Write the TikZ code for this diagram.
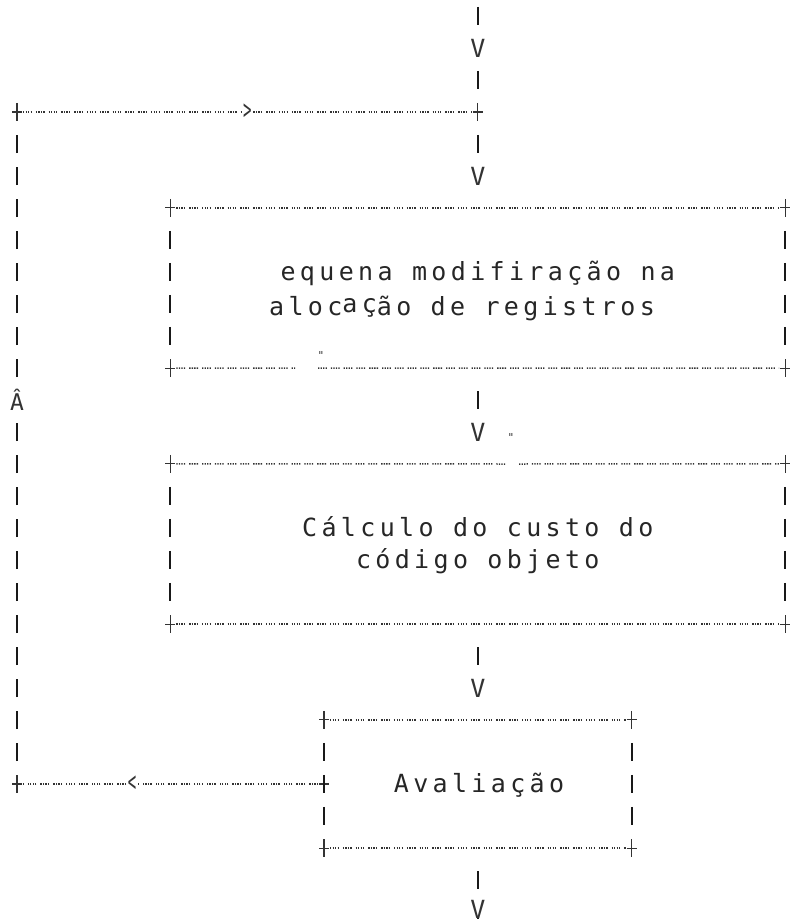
\documentclass[tikz,border=0pt]{standalone}
\usepackage{fontspec}
\usepackage{graphicx}
\usetikzlibrary{calc}
\newfontfamily\dotmono{DejaVu Sans Mono}[LetterSpace=17.4]
\newfontfamily\plainmono{DejaVu Sans Mono}

% a '+' corner / junction mark
\newcommand\plusat[1]{%
  \draw[black!80, line width=1.3pt] ($#1+(-5,0)$) -- ($#1+(5,0)$) ($#1+(0,-9)$) -- ($#1+(0,9)$);}

% dotted top/bottom edges and the four corners of a box node
\newcommand\asciibox[1]{%
  \draw[hline] ($(#1.north west)+(6,0)$) -- ($(#1.north east)+(-6,0)$);
  \draw[hline] ($(#1.south west)+(6,0)$) -- ($(#1.south east)+(-6,0)$);
  \plusat{(#1.north west)}\plusat{(#1.north east)}
  \plusat{(#1.south west)}\plusat{(#1.south east)}}

\tikzset{
  hline/.style={draw=black!80, line width=1.5pt,
    dash pattern=on 1.3pt off 1.2pt on 1.3pt off 1.2pt on 1.3pt off 1.2pt on 1.3pt off 4pt},
  vbar/.style={draw=black!90, line width=2pt, dash pattern=on 18pt off 14pt},
  boxarea/.style={rectangle, draw=none, inner sep=0pt},
  lbltext/.style={font=\dotmono\fontsize{25}{32}\selectfont, text=black!85, anchor=base, inner sep=0pt},
  headV/.style={font=\plainmono\fontsize{25}{25}\selectfont, text=black!80, fill=white,
    inner sep=1pt, minimum height=22pt},
  headH/.style={font=\plainmono\fontsize{20}{20}\selectfont, text=black!80, fill=white,
    inner sep=1pt},
  tick/.style={font=\plainmono\fontsize{11}{11}\selectfont, text=black!80, inner sep=0pt},
}

\begin{document}
\begin{tikzpicture}[x=1pt, y=-1pt]
\useasboundingbox (0,0) rectangle (790,923);

% boxes
\node[boxarea, minimum width=614.4pt, minimum height=160pt] (realloc) at (477.8,288) {};
\node[boxarea, minimum width=614.4pt, minimum height=160pt] (cost) at (477.8,544) {};
\node[boxarea, minimum width=307.2pt, minimum height=128pt] (eval) at (477.8,784) {};

% junctions and free ends
\node[boxarea] (tj) at (477.8,112) {};
\node[boxarea] (tl) at (17,112) {};
\node[boxarea] (bl) at (17,784) {};
\coordinate (entry) at (477.8,7);
\coordinate (exit) at (477.8,919);

% box edges
\draw[hline] ($(realloc.north west)+(6,0)$) -- ($(realloc.north east)+(-6,0)$);
\draw[hline] ($(realloc.south west)+(6,0)$) -- (295,368) (318,368) -- ($(realloc.south east)+(-6,0)$);
\plusat{(realloc.north west)}\plusat{(realloc.north east)}
\plusat{(realloc.south west)}\plusat{(realloc.south east)}
\draw[hline] ($(cost.north west)+(6,0)$) -- (505,464) (519,464) -- ($(cost.north east)+(-6,0)$);
\draw[hline] ($(cost.south west)+(6,0)$) -- ($(cost.south east)+(-6,0)$);
\plusat{(cost.north west)}\plusat{(cost.north east)}
\plusat{(cost.south west)}\plusat{(cost.south east)}
\asciibox{eval}
\plusat{(eval.west)}
\plusat{(tj)}\plusat{(tl)}\plusat{(bl)}

\foreach \b in {realloc,cost,eval}{
  \draw[vbar] ($(\b.north west)+(0,23)$) -- ($(\b.south west)+(0,-23)$);
  \draw[vbar] ($(\b.north east)+(0,23)$) -- ($(\b.south east)+(0,-23)$);
}

% vertical flow
\draw[vbar] (entry) -- ($(tj)+(0,-23)$);
\draw[vbar] ($(tj)+(0,23)$) -- ($(realloc.north)+(0,-23)$);
\draw[vbar] ($(realloc.south)+(0,23)$) -- ($(cost.north)+(0,-23)$);
\draw[vbar] ($(cost.south)+(0,23)$) -- ($(eval.north)+(0,-23)$);
\draw[vbar] ($(eval.south)+(0,23)$) -- (exit);

% feedback loop
\draw[hline] ($(eval.west)+(-6,0)$) -- ($(bl)+(6,0)$);
\draw[vbar] ($(bl)+(0,-23)$) -- ($(tl)+(0,23)$);
\draw[hline] ($(tl)+(6,0)$) -- ($(tj)+(-6,0)$);

% arrow heads
\node[headV] (h1) at (477.8,48) {V};
\node[headV] (h2) at (477.8,176) {V};
\node[headV] (h3) at (477.8,432) {V};
\node[headV] (h4) at (477.8,688) {V};
\node[headV, minimum height=18pt, inner sep=0pt] (h5) at (477.8,909) {V};
\node[headH] (h6) at (247.4,112) {\scalebox{0.7}[1.4]{>}};
\node[headH] (h7) at (132.2,784) {\scalebox{0.7}[1.4]{<}};
\node[headV, font=\plainmono\fontsize{23}{23}\selectfont, minimum height=26pt] (h8) at (17,400) {Â};

% small marks
\node[tick] (m1) at (321,355) {"};
\node[tick] (m2) at (511,437) {"};

% labels
\node[lbltext] (t1) at (477.8,280) {equena modifiração na};
\node[lbltext] (t2) at (462,315) {aloc\raisebox{3pt}{aç}ão de registros};
\node[lbltext] (t3) at (477.8,536) {Cálculo do custo do};
\node[lbltext] (t4) at (477.8,568) {código objeto};
\node[lbltext] (t5) at (479,792) {Avaliação};
\end{tikzpicture}
\end{document}
